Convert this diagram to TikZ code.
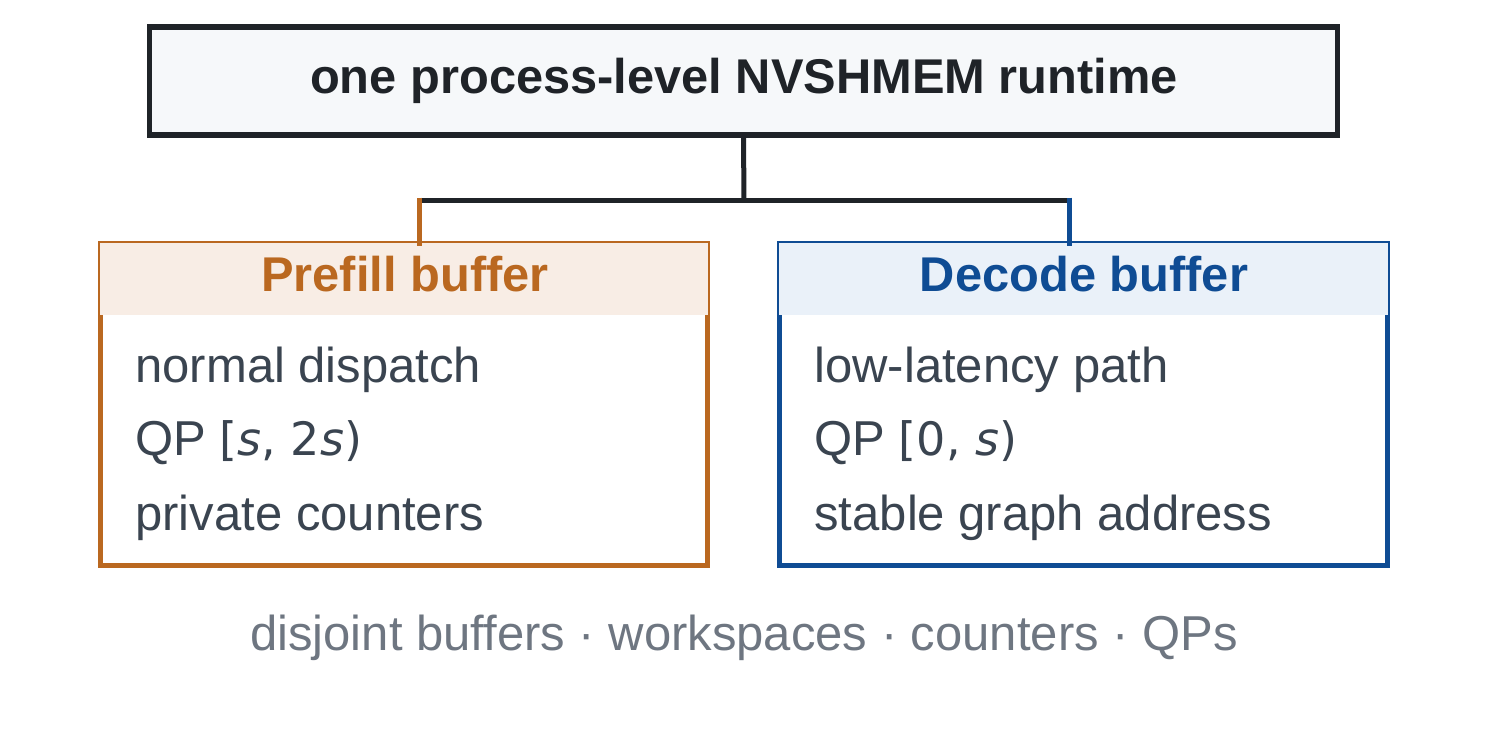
\documentclass[tikz,border=0pt]{standalone}
\usepackage{fontspec}
\setmainfont{Liberation Sans}
\newfontfamily\mathsans{DejaVu Sans}
\definecolor{ink}{HTML}{1F2328}
\definecolor{topfill}{HTML}{F6F8FA}
\definecolor{pfc}{HTML}{BA6820}
\definecolor{pff}{HTML}{F8EDE5}
\definecolor{dcc}{HTML}{0F4C94}
\definecolor{dcf}{HTML}{EAF1F9}
\definecolor{bodytxt}{HTML}{3A4450}
\definecolor{foot}{HTML}{6E7681}
\newcommand{\mvar}[1]{{\mathsans\itshape #1}}
\newcommand{\mtxt}[1]{{\mathsans\fontsize{23pt}{27pt}\selectfont #1}}
\tikzset{
  bigtext/.style={font=\fontsize{24.5pt}{28pt}\selectfont, anchor=base, inner sep=0pt},
  boldtext/.style={bigtext, font=\fontsize{24.4pt}{28pt}\selectfont\bfseries},
  bodyline/.style={bigtext, anchor=base west, text=bodytxt},
  outerbox/.style={draw=#1, line width=1pt, minimum width=305pt, minimum height=162pt, inner sep=0pt},
  thickside/.style={draw=#1, line width=2.5pt},
  stem/.style={line width=2.5pt},
}
\begin{document}
\begin{tikzpicture}[x=0.5pt,y=-0.5pt]
\useasboundingbox (0,0) rectangle (1500,750);
\fill[white] (0,0) rectangle (1500,750);

% top box
\node[draw=ink, fill=topfill, line width=2.75pt, minimum width=594pt, minimum height=54pt, inner sep=0pt] (top) at (743.5,81) {};
\node[boldtext, text=ink] (toptxt) at (744,93) {one process-level NVSHMEM runtime};

% prefill box
\fill[pff] (100,243) rectangle (708,315);
\node[outerbox=pfc] (pf) at (404,404) {};
\draw[thickside=pfc] (100.5,315) -- (100.5,565.5) -- (707.5,565.5) -- (707.5,315);
\node[boldtext, text=pfc] (pfh) at (405,291) {Prefill buffer};
\node[bodyline] (pf1) at (135,382) {normal dispatch};
\node[bodyline] (pf2) at (135,455) {QP \mtxt{[\mvar{s}, 2\mvar{s})}};
\node[bodyline] (pf3) at (135,530) {private counters};

% decode box
\fill[dcf] (779,243) rectangle (1388,315);
\node[outerbox=dcc, minimum width=305.5pt] (dc) at (1083.5,404) {};
\draw[thickside=dcc] (779.5,315) -- (779.5,565.5) -- (1387.5,565.5) -- (1387.5,315);
\node[boldtext, text=dcc] (dch) at (1084,291) {Decode buffer};
\node[bodyline] (dc1) at (814,382) {low-latency path};
\node[bodyline] (dc2) at (814,455) {QP \mtxt{[0, \mvar{s})}};
\node[bodyline] (dc3) at (814,530) {stable graph address};

% connectors
\coordinate (junc) at (744,200);
\coordinate (pftop) at (419,246);
\coordinate (dctop) at (1069,246);
\draw[stem, draw=ink] (top.south) -- (junc);
\draw[stem, draw=ink] (pftop |- junc) -- (dctop |- junc);
\draw[stem, draw=pfc] (419,197.5) -- (pftop);
\draw[stem, draw=dcc] (1069,197.5) -- (dctop);

% footer
\node[bigtext, text=foot] (footer) at (744,650) {disjoint buffers · workspaces · counters · QPs};
\end{tikzpicture}
\end{document}
